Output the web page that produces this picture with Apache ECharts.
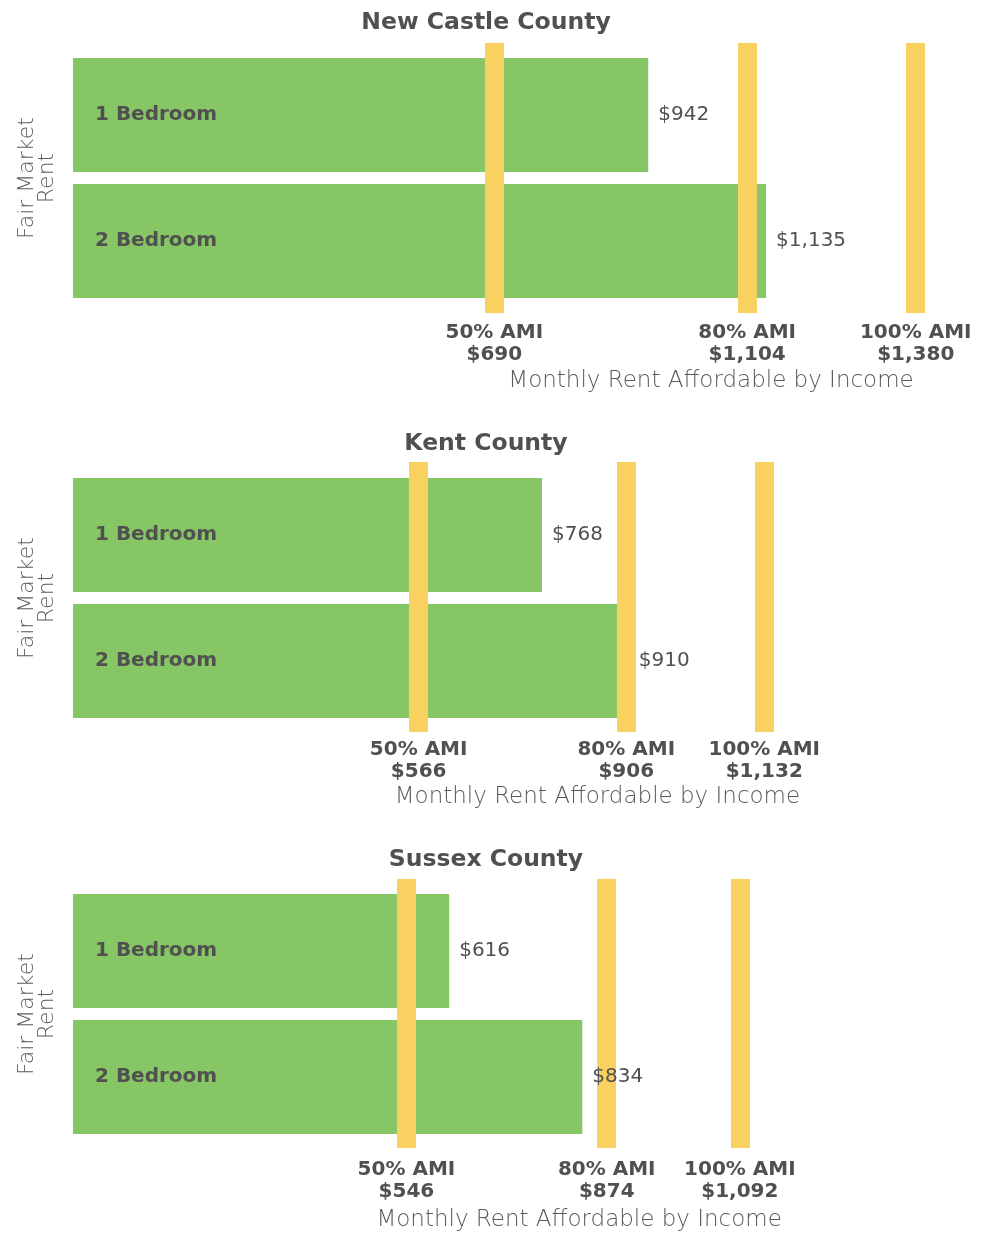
<!DOCTYPE html>
<html>
<head>
<meta charset="utf-8">
<script src="https://cdn.jsdelivr.net/npm/echarts@6/dist/echarts.min.js"></script>
<style>
html,body{margin:0;padding:0;background:#fff;}
#chart{width:989px;height:1233px;}
</style>
</head>
<body>
<div id="chart"></div>
<script>
// ---- data ----
const counties = ['New Castle County', 'Kent County', 'Sussex County'];
const bedrooms = ['1 Bedroom', '2 Bedroom'];
const rent1br = [942, 768, 616];
const rent2br = [1135, 910, 834];
const amiLabels = ['50% AMI', '80% AMI', '100% AMI'];
const ami50 = [690, 566, 546];
const ami80 = [1104, 906, 874];
const ami100 = [1380, 1132, 1092];
const yAxisName = 'Fair Market\nRent';
const xAxisName = 'Monthly Rent Affordable by Income';

// ---- layout ----
const FONT = '"DejaVu Sans", sans-serif';
const GREEN = '#86C664';
const YELLOW = '#F8D160';
const TEXT = '#505050';
const titleTop = [6, 427, 843];
const barTop = [52, 472, 888];
const lineTop = [43, 462, 879];
const lineH = [270, 270, 269];
const labelDist = [9, 7, 11];
const axisTitleY = [381, 797, 1220];
const X_MAX = 1500;

function money(v) { return '$' + v.toLocaleString('en-US'); }

const chart = echarts.init(document.getElementById('chart'), null, {renderer: 'canvas'});

const grids = [], xAxes = [], yAxes = [], series = [], titles = [];
counties.forEach((c, i) => {
  titles.push({
    text: c, left: 481, top: titleTop[i], textAlign: 'center',
    textStyle: {fontFamily: FONT, fontSize: 23.5, fontWeight: 'bold', color: TEXT}
  });
  // bar grid
  grids.push({left: 73, right: 0, top: barTop[i], height: 252, containLabel: false});
  // line grid
  grids.push({left: 73, right: 0, top: lineTop[i], height: lineH[i], containLabel: false});
  const gB = i * 2, gL = i * 2 + 1;
  const hiddenX = {
    type: 'value', min: 0, max: X_MAX,
    axisLine: {show: false}, axisTick: {show: false}, axisLabel: {show: false}, splitLine: {show: false}
  };
  xAxes.push(Object.assign({gridIndex: gB}, hiddenX));
  xAxes.push(Object.assign({gridIndex: gL}, hiddenX));
  yAxes.push({
    gridIndex: gB, type: 'category', data: bedrooms, inverse: true, z: 6,
    axisLine: {show: false}, axisTick: {show: false}, splitLine: {show: false},
    axisLabel: {inside: true, margin: 22, fontFamily: FONT, fontSize: 20, fontWeight: 'bold', color: TEXT},
    name: yAxisName, nameLocation: 'middle', nameRotate: 90, nameGap: 16,
    nameTextStyle: {fontFamily: FONT, fontSize: 22, fontWeight: 200, color: '#5a5a5a', lineHeight: 20}
  });
  yAxes.push({
    gridIndex: gL, type: 'value', min: 0, max: 1, show: false
  });
  const vals = [rent1br[i], rent2br[i]];
  series.push({
    type: 'bar', xAxisIndex: gB, yAxisIndex: gB, data: vals, barWidth: 114, barGap: '-100%',
    itemStyle: {color: GREEN}, z: 2, silent: true, animation: false
  });
  series.push({
    type: 'bar', xAxisIndex: gB, yAxisIndex: gB, data: vals, barWidth: 114, barGap: '-100%',
    itemStyle: {color: 'rgba(0,0,0,0)'}, z: 5, silent: true, animation: false,
    label: {show: true, position: 'right', distance: 10, formatter: p => money(p.value),
      fontFamily: FONT, fontSize: 20, color: TEXT}
  });
  const amiVals = [ami50[i], ami80[i], ami100[i]];
  series.push({
    type: 'scatter', xAxisIndex: gL, yAxisIndex: gL, data: [], z: 3, silent: true, animation: false,
    markLine: {
      silent: true, symbol: 'none', animation: false,
      lineStyle: {color: YELLOW, width: 19, type: 'solid'},
      label: {show: true, position: 'start', distance: labelDist[i],
        formatter: p => p.name + '\n' + money(p.value),
        fontFamily: FONT, fontSize: 20, fontWeight: 'bold', color: TEXT, lineHeight: 22},
      emphasis: {disabled: true},
      data: amiLabels.map((n, k) => ({name: n, xAxis: amiVals[k]}))
    }
  });
});

chart.setOption({
  animation: false,
  title: titles,
  grid: grids,
  xAxis: xAxes,
  yAxis: yAxes,
  series: series
});

// axis titles centred under the AMI label span
const graphics = counties.map((c, i) => {
  const p50 = chart.convertToPixel({xAxisIndex: i * 2 + 1}, ami50[i]);
  const p100 = chart.convertToPixel({xAxisIndex: i * 2 + 1}, ami100[i]);
  return {
    type: 'text', x: (p50 + p100) / 2 + 6, y: axisTitleY[i],
    style: {text: xAxisName, fontFamily: FONT, fontSize: 23, fontWeight: 200, fill: '#5a5a5a',
      align: 'center', verticalAlign: 'middle'}
  };
});
chart.setOption({graphic: graphics});
</script>
</body>
</html>
